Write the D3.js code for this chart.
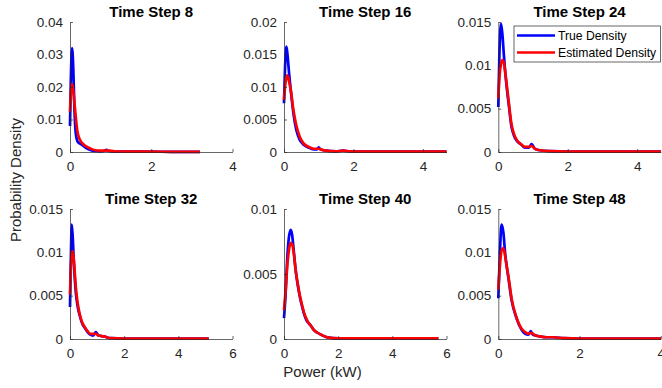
<!DOCTYPE html>
<html lang="en">
<head>
<meta charset="UTF-8">
<title>True vs Estimated Density</title>
<script src="https://d3js.org/d3.v7.min.js"></script>
<style>
    body { margin: 0; background: #fff; }
    svg { display: block; font-family: "Liberation Sans", Arial, Helvetica, sans-serif; }
    .tick-label { font-size: 13.5px; fill: #262626; }
    .title { font-size: 15px; font-weight: bold; fill: #000; }
    .axis-label { font-size: 15px; fill: #262626; }
    .legend-text { font-size: 12.2px; fill: #000; }
</style>
</head>
<body>
<svg width="662" height="388"></svg>
<script>
    // panel settings
    const titles = ["Time Step 8", "Time Step 16", "Time Step 24", "Time Step 32", "Time Step 40", "Time Step 48"];
    const xMax = [4, 4.68, 4.68, 6, 6, 4];
    const yMax = [0.04, 0.02, 0.015, 0.015, 0.01, 0.015];
    const xTicks = [[0, 2, 4], [0, 2, 4], [0, 2, 4], [0, 2, 4, 6], [0, 2, 4, 6], [0, 2, 4]];
    const yTicks = [
        [0, 0.01, 0.02, 0.03, 0.04],
        [0, 0.005, 0.01, 0.015, 0.02],
        [0, 0.005, 0.01, 0.015],
        [0, 0.005, 0.01, 0.015],
        [0, 0.005, 0.01],
        [0, 0.005, 0.01, 0.015]
    ];
    const seriesNames = ["True Density", "Estimated Density"];

    // time step 8
    const power8 = [0, 0.02, 0.05, 0.08, 0.11, 0.14, 0.18, 0.22, 0.27, 0.33, 0.4, 0.5, 0.6, 0.75, 0.85, 0.9, 0.95, 1.1, 1.3, 1.6, 2.0, 2.5, 3.0, 3.2];
    const true8 = [0.008, 0.022, 0.032, 0.026, 0.013, 0.006, 0.0034, 0.0028, 0.0024, 0.0019, 0.0012, 0.0006, 0.0003, 0.0002, 0.0004, 0.0007, 0.0003, 0.0001, 0.0001, 0.0001, 0.0001, 0.00005, 0.00005, 0.00005];
    const est8 = [0.0124, 0.018, 0.021, 0.019, 0.015, 0.011, 0.0065, 0.0045, 0.0032, 0.0024, 0.0017, 0.0011, 0.0006, 0.0004, 0.0004, 0.0005, 0.0004, 0.0002, 0.0001, 0.0001, 0.0001, 0.00005, 0.00005, 0.00005];

    // time step 16
    const power16 = [0, 0.03, 0.07, 0.1, 0.14, 0.2, 0.27, 0.35, 0.45, 0.55, 0.7, 0.85, 0.95, 1.0, 1.05, 1.2, 1.5, 1.7, 1.9, 2.5, 3.0, 3.5, 4.0, 4.68];
    const true16 = [0.0075, 0.013, 0.0162, 0.015, 0.0125, 0.0093, 0.006, 0.0035, 0.0019, 0.0012, 0.0007, 0.0004, 0.0004, 0.0007, 0.0004, 0.0002, 0.0001, 0.0002, 0.0001, 0.00005, 0.00005, 0.00005, 0.00005, 0.00005];
    const est16 = [0.008, 0.010, 0.0115, 0.0118, 0.011, 0.0093, 0.0065, 0.0042, 0.0024, 0.0014, 0.0008, 0.0005, 0.0005, 0.0005, 0.0004, 0.0002, 0.0001, 0.0002, 0.0001, 0.00005, 0.00005, 0.00005, 0.00005, 0.00005];

    // time step 24
    const power24 = [0, 0.03, 0.08, 0.12, 0.16, 0.2, 0.25, 0.3, 0.38, 0.45, 0.53, 0.65, 0.77, 0.88, 0.96, 1.05, 1.2, 1.5, 2.0, 2.5, 3.0, 3.5, 4.0, 4.68];
    const true24 = [0.0052, 0.011, 0.0148, 0.0135, 0.0112, 0.0092, 0.0072, 0.0055, 0.0029, 0.0019, 0.0013, 0.0009, 0.0005, 0.0005, 0.0009, 0.0004, 0.0002, 0.0001, 0.00005, 0.00005, 0.00005, 0.00005, 0.00005, 0.00005];
    const est24 = [0.0062, 0.0085, 0.0102, 0.0106, 0.0103, 0.0092, 0.0075, 0.0058, 0.0032, 0.0021, 0.0014, 0.0009, 0.0006, 0.0006, 0.0007, 0.0004, 0.0002, 0.0001, 0.00005, 0.00005, 0.00005, 0.00005, 0.00005, 0.00005];

    // time step 32
    const power32 = [0, 0.03, 0.065, 0.1, 0.14, 0.18, 0.22, 0.28, 0.35, 0.45, 0.56, 0.65, 0.75, 0.85, 0.96, 1.05, 1.25, 1.5, 2.0, 2.5, 3.0, 4.0, 5.12];
    const true32 = [0.0037, 0.009, 0.0132, 0.0118, 0.009, 0.0068, 0.0052, 0.0038, 0.0028, 0.0018, 0.0012, 0.0008, 0.0005, 0.0004, 0.0008, 0.0004, 0.0003, 0.0001, 0.00005, 0.00005, 0.00005, 0.00005, 0.00005];
    const est32 = [0.0051, 0.008, 0.0098, 0.0101, 0.0092, 0.0075, 0.0058, 0.0042, 0.003, 0.0019, 0.0013, 0.0009, 0.0006, 0.0006, 0.0006, 0.0004, 0.0003, 0.0001, 0.00005, 0.00005, 0.00005, 0.00005, 0.00005];

    // time step 40
    const power40 = [0, 0.06, 0.12, 0.18, 0.25, 0.3, 0.36, 0.43, 0.52, 0.6, 0.68, 0.76, 0.84, 0.92, 1.0, 1.1, 1.22, 1.4, 1.6, 2.0, 2.5, 3.0, 4.0, 5.0, 5.7];
    const true40 = [0.0016, 0.0035, 0.0062, 0.0078, 0.0084, 0.008, 0.0068, 0.0053, 0.004, 0.0031, 0.0024, 0.0018, 0.0014, 0.0012, 0.0010, 0.0007, 0.0005, 0.0003, 0.00013, 0.00005, 0.00005, 0.00005, 0.00005, 0.00005, 0.00005];
    const est40 = [0.0022, 0.0037, 0.0056, 0.0068, 0.0074, 0.0073, 0.0066, 0.0053, 0.0041, 0.0032, 0.0025, 0.0019, 0.0015, 0.0012, 0.0010, 0.0007, 0.0005, 0.0003, 0.00013, 0.00005, 0.00005, 0.00005, 0.00005, 0.00005, 0.00005];

    // time step 48
    const power48 = [0, 0.04, 0.08, 0.125, 0.17, 0.21, 0.25, 0.33, 0.44, 0.57, 0.66, 0.74, 0.8, 0.85, 0.92, 1.02, 1.2, 1.35, 1.6, 2.0, 2.5, 3.0, 3.5, 4.0];
    const true48 = [0.0047, 0.01, 0.0132, 0.0123, 0.0098, 0.0083, 0.007, 0.0044, 0.0025, 0.0011, 0.0006, 0.0005, 0.0009, 0.0005, 0.0004, 0.0003, 0.0002, 0.0002, 0.0001, 0.00005, 0.00005, 0.00005, 0.00005, 0.00005];
    const est48 = [0.0057, 0.0085, 0.0102, 0.0105, 0.0095, 0.0083, 0.0072, 0.0046, 0.0026, 0.0012, 0.0008, 0.0006, 0.0007, 0.0006, 0.0004, 0.0003, 0.0002, 0.0002, 0.0001, 0.00005, 0.00005, 0.00005, 0.00005, 0.00005];

    const panels = [
        { x: power8, t: true8, e: est8 },
        { x: power16, t: true16, e: est16 },
        { x: power24, t: true24, e: est24 },
        { x: power32, t: true32, e: est32 },
        { x: power40, t: true40, e: est40 },
        { x: power48, t: true48, e: est48 }
    ];

    const svg = d3.select("svg");
    const colLeft = [70, 284, 498.3];
    const rowTop = [22, 209];
    const pw = 162.5, ph = 130;
    const colors = ["#0000ff", "#ff0000"];
    const fmt = d => String(+d.toFixed(4));

    panels.forEach((p, i) => {
        const left = colLeft[i % 3], top = rowTop[Math.floor(i / 3)];
        const g = svg.append("g").attr("transform", `translate(${left},${top})`);

        const x = d3.scaleLinear().domain([0, xMax[i]]).range([0, pw]);
        const y = d3.scaleLinear().domain([0, yMax[i]]).range([ph, 0]);

        // curves: true first, estimated on top
        [p.t, p.e].forEach((vals, k) => {
            const pts = p.x.map((v, j) => [v, vals[j]]);
            g.append("path")
                .datum(pts)
                .attr("fill", "none")
                .attr("stroke", colors[k])
                .attr("stroke-width", 2.7)
                .attr("stroke-linejoin", "round")
                .attr("d", d3.line().x(d => x(d[0])).y(d => y(d[1])).curve(d3.curveMonotoneX));
        });

        // axes (inward ticks, no box)
        const xAxis = g.append("g").attr("transform", `translate(0,${ph})`)
            .call(d3.axisBottom(x).tickValues(xTicks[i]).tickSizeInner(-3).tickSizeOuter(0).tickPadding(9).tickFormat(fmt));
        const yAxis = g.append("g")
            .call(d3.axisLeft(y).tickValues(yTicks[i]).tickSizeInner(-3).tickSizeOuter(0).tickPadding(7).tickFormat(fmt));
        [xAxis, yAxis].forEach(a => {
            a.select(".domain").attr("stroke", "#262626").attr("stroke-width", 0.7);
            a.selectAll(".tick line").attr("stroke", "#262626").attr("stroke-width", 0.7);
            a.selectAll(".tick text").attr("class", "tick-label").attr("font-size", null).attr("font-family", null);
            a.attr("font-size", null).attr("font-family", null);
        });

        g.append("text")
            .attr("class", "title")
            .attr("x", pw / 2)
            .attr("y", -5.5)
            .attr("text-anchor", "middle")
            .text(titles[i]);

        // legend in third panel
        if (i === 2) {
            const lg = g.append("g").attr("transform", `translate(${514 - left},${26 - top})`);
            lg.append("rect")
                .attr("width", 146.5).attr("height", 36)
                .attr("fill", "#fff").attr("stroke", "#262626").attr("stroke-width", 0.7);
            seriesNames.forEach((name, k) => {
                const yy = 9.5 + k * 17;
                lg.append("line")
                    .attr("x1", 3).attr("x2", 41).attr("y1", yy).attr("y2", yy)
                    .attr("stroke", colors[k]).attr("stroke-width", 2.7);
                lg.append("text")
                    .attr("class", "legend-text")
                    .attr("x", 44).attr("y", yy).attr("dy", "0.35em")
                    .text(name);
            });
        }
    });

    svg.append("text")
        .attr("class", "axis-label")
        .attr("x", 322.5).attr("y", 377)
        .attr("text-anchor", "middle")
        .text("Power (kW)");

    svg.append("text")
        .attr("class", "axis-label")
        .attr("transform", "translate(21,180) rotate(-90)")
        .attr("text-anchor", "middle")
        .text("Probability Density");
</script>
</body>
</html>
